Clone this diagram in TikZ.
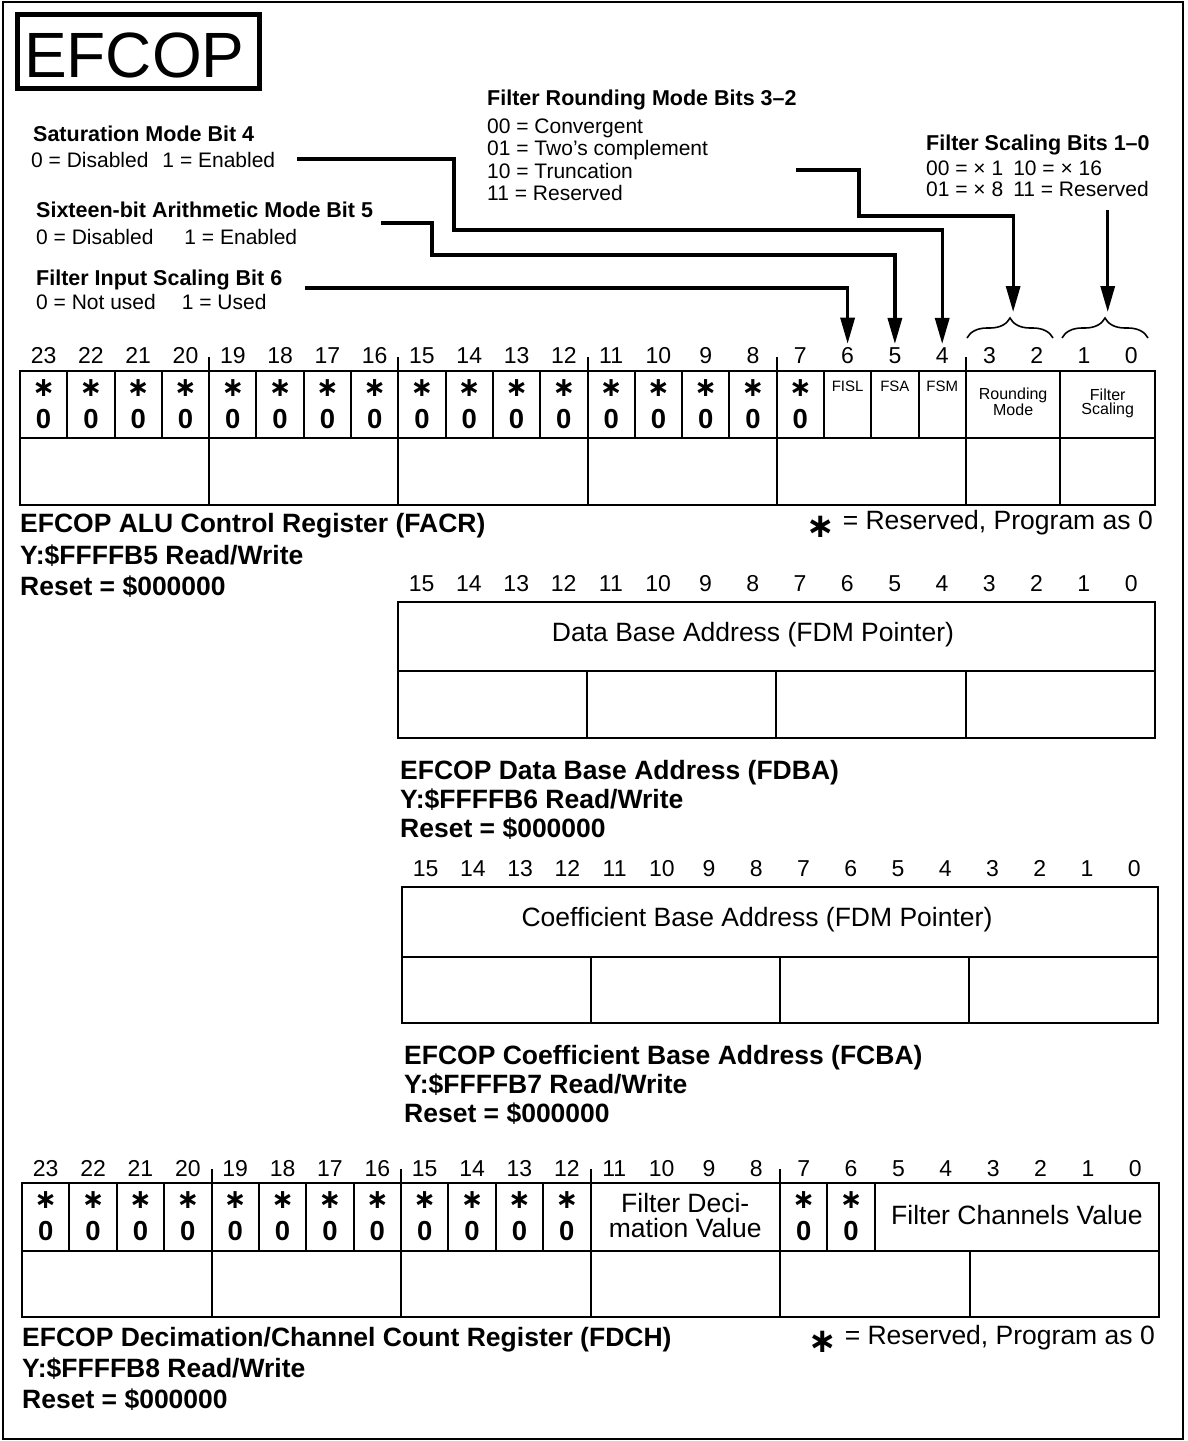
\documentclass[tikz,border=0pt]{standalone}
\usepackage{fontspec}
\setmainfont{Liberation Sans}
\newfontfamily\djv{DejaVu Sans}
\usetikzlibrary{arrows.meta,decorations.pathreplacing}
\begin{document}
\begin{tikzpicture}[x=1pt,y=-1pt]
\tikzset{
  frameline/.style={line width=2pt},
  regbox/.style={line width=2.6pt},
  regdiv/.style={line width=2pt},
  conn/.style={line width=3.2pt,-{Triangle[length=26pt,width=14pt]}},
  bracestyle/.style={line width=1.6pt,decorate,decoration={brace,amplitude=20pt}},
  bitnum/.style={inner sep=0pt,anchor=base,font=\fontsize{23}{23}\selectfont},
  starmark/.style={inner sep=0pt,anchor=base,font=\djv\bfseries\fontsize{27}{27}\selectfont},
  zeromark/.style={inner sep=0pt,anchor=base,font=\bfseries\fontsize{27.5}{27.5}\selectfont},
  tinylbl/.style={inner sep=0pt,anchor=base,font=\fontsize{15}{15}\selectfont},
  smalllbl/.style={inner sep=0pt,anchor=north,align=center,font=\fontsize{16}{14}\selectfont},
  fieldtxt/.style={inner sep=0pt,align=center,font=\fontsize{26.5}{25}\selectfont},
  regtitle/.style={inner sep=0pt,anchor=base west,font=\bfseries\fontsize{26.5}{26.5}\selectfont},
  anntitle/.style={inner sep=0pt,anchor=base west,font=\bfseries\fontsize{21.5}{21.5}\selectfont},
  anntext/.style={inner sep=0pt,anchor=base west,font=\fontsize{21}{21}\selectfont},
  legend/.style={inner sep=0pt,anchor=base east,font=\fontsize{26.5}{26.5}\selectfont},
}
\newcommand{\legstar}{\raisebox{-8pt}{\djv\bfseries\fontsize{34}{34}\selectfont ∗}}
\useasboundingbox (0,0) rectangle (1187,1441);
\draw[frameline] (3,2) rectangle (1183,1439);

% title
\draw[line width=5pt] (17.5,14.5) rectangle (259.5,88.5);
\node[inner sep=0pt,anchor=base west,font=\fontsize{64}{64}\selectfont] (title) at (24,77) {EFCOP};

% annotations
\node[anntitle] (satT) at (33,141) {Saturation Mode Bit 4};
\node[anntext] (satV) at (31,167) {0 = Disabled\hspace{14pt}1 = Enabled};
\node[anntitle] (sixT) at (36,217) {Sixteen-bit Arithmetic Mode Bit 5};
\node[anntext] (sixV) at (36,244) {0 = Disabled\hspace{31pt}1 = Enabled};
\node[anntitle] (fisT) at (36,285) {Filter Input Scaling Bit 6};
\node[anntext] (fisV) at (36,309) {0 = Not used\hspace{26pt}1 = Used};
\node[anntitle] (rndT) at (487,105) {Filter Rounding Mode Bits 3–2};
\node[anntext] (rnd1) at (487,133) {00 = Convergent};
\node[anntext] (rnd2) at (487,155) {01 = Two’s complement};
\node[anntext] (rnd3) at (487,178) {10 = Truncation};
\node[anntext] (rnd4) at (487,200) {11 = Reserved};
\node[anntitle] (fscT) at (926,150) {Filter Scaling Bits 1–0};
\node[anntext] (fsc1) at (926,175) {00 = × 1\hspace{10pt}10 = × 16};
\node[anntext] (fsc2) at (926,196) {01 = × 8\hspace{10pt}11 = Reserved};

% ---------- FACR ----------
\def\facp{47.292}
\foreach \b in {0,...,23} \node[bitnum] (fa-n\b) at ({20+(23.5-\b)*\facp},363) {\b};
\draw[regbox] (20,371) rectangle (1155,505);
\draw[regdiv] (20,438) -- (1155,438);
\foreach \i in {1,2,3,5,6,7,9,10,11,13,14,15,17,18,19}
  \draw[regdiv] ({20+\i*\facp},371) -- ({20+\i*\facp},438);
\foreach \i in {4,8,12,16,20}
  \draw[regdiv] ({20+\i*\facp},357) -- ({20+\i*\facp},505);
\draw[regdiv] ({20+22*\facp},371) -- ({20+22*\facp},505);
\foreach \b in {7,...,23} {
  \node[starmark] (fa-s\b) at ({20+(23.5-\b)*\facp},396) {∗};
  \node[zeromark] (fa-z\b) at ({20+(23.5-\b)*\facp},428) {0};
}
\node[tinylbl] (fisl) at ({20+17.5*\facp},391) {FISL};
\node[tinylbl] (fsa) at ({20+18.5*\facp},391) {FSA};
\node[tinylbl] (fsm) at ({20+19.5*\facp},391) {FSM};
\node[smalllbl] (rmode) at ({20+21*\facp},388) {Rounding\\Mode};
\node[smalllbl] (fscal) at ({20+23*\facp},389) {Filter\\Scaling};
\node[legend] (fa-leg) at (1153,529.5) {\legstar{} = Reserved, Program as 0};
\node[regtitle] (fa-t1) at (20,532) {EFCOP ALU Control Register (FACR)};
\node[regtitle] (fa-t2) at (20,564) {Y:\$FFFFB5 Read/Write};
\node[regtitle] (fa-t3) at (20,595) {Reset = \$000000};

% braces and connectors
\draw[bracestyle] (967,338) -- (1053,338);
\draw[bracestyle] (1062,338) -- (1148,338);
\coordinate (br32) at ({20+21*\facp},312);
\coordinate (br10) at ({20+23*\facp},312);
\coordinate (satS) at (297,159);
\coordinate (sixS) at (381,223);
\coordinate (fisS) at (305,288);
\coordinate (rndS) at (796,170);
\coordinate (fscS) at ({20+23*\facp},210);
\draw[conn] (satS) -- (454,159) -- (454,230) -| ([yshift=3pt]fa-n4.north);
\draw[conn] (sixS) -- (432,223) -- (432,255) -| ([yshift=3pt]fa-n5.north);
\draw[conn] (fisS) -| ([yshift=3pt]fa-n6.north);
\draw[conn] (rndS) -- (859,170) -- (859,216) -| (br32);
\draw[conn] (fscS) -- (br10);

% ---------- FDBA ----------
\foreach \b in {0,...,15} \node[bitnum] (db-n\b) at ({398+(15.5-\b)*47.3},591) {\b};
\draw[regbox] (398,602) rectangle (1155,738);
\draw[regdiv] (398,671) -- (1155,671);
\foreach \i in {4,8,12} \draw[regdiv] ({398+\i*47.3},671) -- ({398+\i*47.3},738);
\node[fieldtxt] (db-f) at (753,635) {Data Base Address (FDM Pointer)};
\node[regtitle] (db-t1) at (400,779) {EFCOP Data Base Address (FDBA)};
\node[regtitle] (db-t2) at (400,808) {Y:\$FFFFB6 Read/Write};
\node[regtitle] (db-t3) at (400,837) {Reset = \$000000};

% ---------- FCBA ----------
\foreach \b in {0,...,15} \node[bitnum] (cb-n\b) at ({402+(15.5-\b)*47.25},876) {\b};
\draw[regbox] (402,887) rectangle (1158,1023);
\draw[regdiv] (402,957) -- (1158,957);
\foreach \i in {4,8,12} \draw[regdiv] ({402+\i*47.25},957) -- ({402+\i*47.25},1023);
\node[fieldtxt] (cb-f) at (757,920) {Coefficient Base Address (FDM Pointer)};
\node[regtitle] (cb-t1) at (404,1064) {EFCOP Coefficient Base Address (FCBA)};
\node[regtitle] (cb-t2) at (404,1093) {Y:\$FFFFB7 Read/Write};
\node[regtitle] (cb-t3) at (404,1122) {Reset = \$000000};

% ---------- FDCH ----------
\def\dcp{47.375}
\foreach \b in {0,...,23} \node[bitnum] (dc-n\b) at ({22+(23.5-\b)*\dcp},1176) {\b};
\draw[regbox] (22,1183) rectangle (1159,1317);
\draw[regdiv] (22,1251) -- (1159,1251);
\foreach \i in {1,2,3,5,6,7,9,10,11,17,18}
  \draw[regdiv] ({22+\i*\dcp},1183) -- ({22+\i*\dcp},1251);
\foreach \i in {4,8,12,16}
  \draw[regdiv] ({22+\i*\dcp},1169) -- ({22+\i*\dcp},1317);
\draw[regdiv] ({22+20*\dcp},1251) -- ({22+20*\dcp},1317);
\foreach \b in {12,...,23,6,7} {
  \node[starmark] (dc-s\b) at ({22+(23.5-\b)*\dcp},1208) {∗};
  \node[zeromark] (dc-z\b) at ({22+(23.5-\b)*\dcp},1240) {0};
}
\node[fieldtxt,anchor=north] (dc-dec) at ({22+14*\dcp},1193) {Filter Deci-\\mation Value};
\node[fieldtxt] (dc-ch) at ({22+21*\dcp},1215) {Filter Channels Value};
\node[legend] (dc-leg) at (1155,1344.5) {\legstar{} = Reserved, Program as 0};
\node[regtitle] (dc-t1) at (22,1346) {EFCOP Decimation/Channel Count Register (FDCH)};
\node[regtitle] (dc-t2) at (22,1377) {Y:\$FFFFB8 Read/Write};
\node[regtitle] (dc-t3) at (22,1408) {Reset = \$000000};
\end{tikzpicture}
\end{document}
